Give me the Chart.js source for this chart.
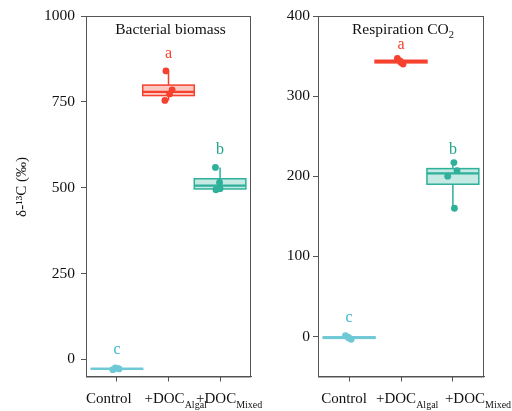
<!DOCTYPE html>
<html>
<head>
<meta charset="utf-8">
<script src="https://cdn.jsdelivr.net/npm/chart.js@4.4.1/dist/chart.umd.min.js"></script>
<style>
    body { margin: 0; background: #fff; }
    #wrap { position: relative; width: 512px; height: 411px; overflow: hidden; }
    canvas { position: absolute; top: 0; }
</style>
</head>
<body>
<div id="wrap">
    <canvas id="biomassChart" width="300" height="411" style="left:0"></canvas>
    <canvas id="respChart" width="256" height="411" style="left:256px"></canvas>
</div>
<script>
// Treatments (main label + subscript) and significance letters
const groupNames = ['Control', '+DOC', '+DOC'];
const groupSubs = ['', 'Algal', 'Mixed'];
const letters = ['c', 'a', 'b'];
const groupColors = ['#6FC8D6', '#F5412E', '#2EB09A'];
const letterColors = ['#35B9D6', '#F5412E', '#1FA38C'];

// Bacterial biomass, d13C per replicate
const biomassControl = [-30, -28, -27, -25];
const biomassAlgal = [754, 773, 785, 840];
const biomassMixed = [494, 497, 515, 559];
const biomassLetterY = [32, 892, 613];
const biomassTicks = [0, 250, 500, 750, 1000];

// Respiration CO2, d13C per replicate
const respControl = [-3.5, -2, -1, 1];
const respAlgal = [340, 342, 344, 347];
const respMixed = [160, 200, 207, 217];
const respLetterY = [24, 365, 234];
const respTicks = [0, 100, 200, 300, 400];

// Horizontal jitter of the replicate points (category units)
const biomassJitter = [[-0.08, 0.04, 0.02, -0.03], [-0.07, 0.02, 0.07, -0.05], [-0.08, 0.0, -0.01, -0.09]];
const respJitter = [[0.04, 0.0, -0.02, -0.07], [0.04, 0.0, -0.02, -0.07], [0.03, -0.1, 0.08, 0.02]];

const FONT = '"Liberation Serif", "DejaVu Serif", serif';

// Quantile (type 7, like R)
function quantile(vals, p) {
    const s = [...vals].sort((a, b) => a - b);
    const h = (s.length - 1) * p;
    const lo = Math.floor(h);
    const hi = Math.ceil(h);
    return s[lo] + (h - lo) * (s[hi] - s[lo]);
}

function hexToRgba(hex, a) {
    const n = parseInt(hex.slice(1), 16);
    return `rgba(${(n >> 16) & 255}, ${(n >> 8) & 255}, ${n & 255}, ${a})`;
}

// Box and whiskers, drawn under the points
const boxPlugin = {
    id: 'boxes',
    beforeDatasetsDraw(chart, args, opts) {
        const { ctx, scales: { x, y } } = chart;
        opts.groups.forEach((vals, i) => {
            const q1 = quantile(vals, 0.25), med = quantile(vals, 0.5), q3 = quantile(vals, 0.75);
            const lo = Math.min(...vals), hi = Math.max(...vals);
            const col = groupColors[i];
            const l = x.getPixelForValue(i - 0.5), r = x.getPixelForValue(i + 0.5), c = x.getPixelForValue(i);
            ctx.save();
            ctx.strokeStyle = col;
            ctx.lineWidth = 1.5;
            ctx.beginPath();
            ctx.moveTo(c, y.getPixelForValue(q3));
            ctx.lineTo(c, y.getPixelForValue(hi));
            ctx.moveTo(c, y.getPixelForValue(q1));
            ctx.lineTo(c, y.getPixelForValue(lo));
            ctx.stroke();
            const top = y.getPixelForValue(q3), bot = y.getPixelForValue(q1);
            ctx.fillStyle = hexToRgba(col, 0.28);
            ctx.fillRect(l, top, r - l, bot - top);
            ctx.strokeRect(l, top, r - l, bot - top);
            ctx.lineWidth = 2.2;
            ctx.beginPath();
            ctx.moveTo(l, y.getPixelForValue(med));
            ctx.lineTo(r, y.getPixelForValue(med));
            ctx.stroke();
            ctx.restore();
        });
    }
};

// Panel frame, titles, letters and x labels with subscripts
const decoPlugin = {
    id: 'deco',
    afterDraw(chart, args, opts) {
        const { ctx, chartArea: a, scales: { x, y } } = chart;
        ctx.save();
        ctx.strokeStyle = '#555';
        ctx.lineWidth = 1;
        ctx.strokeRect(a.left + 0.5, a.top + 0.5, a.right - a.left - 1, a.bottom - a.top);

        // panel title
        ctx.fillStyle = '#111';
        ctx.textBaseline = 'alphabetic';
        ctx.font = `15.5px ${FONT}`;
        const tw = ctx.measureText(opts.title).width;
        ctx.font = `10.5px ${FONT}`;
        const sw = opts.titleSub ? ctx.measureText(opts.titleSub).width : 0;
        const tx = (a.left + a.right) / 2 + 2 - (tw + sw) / 2;
        ctx.font = `15.5px ${FONT}`;
        ctx.textAlign = 'left';
        ctx.fillText(opts.title, tx, 34);
        if (opts.titleSub) {
            ctx.font = `10.5px ${FONT}`;
            ctx.fillText(opts.titleSub, tx + tw, 38);
        }

        // y axis title
        if (opts.yTitle) {
            ctx.save();
            ctx.translate(22, 187);
            ctx.rotate(-Math.PI / 2);
            ctx.textAlign = 'center';
            ctx.textBaseline = 'middle';
            ctx.font = `15px ${FONT}`;
            ctx.fillText(opts.yTitle, 0, 0);
            ctx.restore();
        }

        // significance letters
        ctx.textAlign = 'center';
        ctx.textBaseline = 'middle';
        ctx.font = `16px ${FONT}`;
        letters.forEach((t, i) => {
            ctx.fillStyle = letterColors[i];
            ctx.fillText(t, x.getPixelForValue(i), y.getPixelForValue(opts.letterY[i]) + 1);
        });

        // x labels
        ctx.fillStyle = '#111';
        ctx.textAlign = 'left';
        ctx.textBaseline = 'alphabetic';
        groupNames.forEach((name, i) => {
            const sx = x.getPixelForValue(i) + opts.labelShift[i];
            ctx.font = `15px ${FONT}`;
            ctx.fillText(name, sx, 403);
            if (groupSubs[i]) {
                const w = ctx.measureText(name).width;
                ctx.font = `10px ${FONT}`;
                ctx.fillText(groupSubs[i], sx + w, 408);
            }
        });
        ctx.restore();
    }
};

function makePanel(id, cfg) {
    const ctx = document.getElementById(id).getContext('2d');
    const datasets = cfg.groups.map((vals, i) => ({
        type: 'scatter',
        data: vals.map((v, k) => ({ x: i + cfg.jitter[i][k], y: v })),
        backgroundColor: groupColors[i],
        borderWidth: 0,
        pointRadius: 3.4
    }));
    new Chart(ctx, {
        type: 'scatter',
        data: { datasets },
        plugins: [boxPlugin, decoPlugin],
        options: {
            responsive: false,
            animation: false,
            devicePixelRatio: 1,
            events: [],
            layout: { padding: { top: 16, right: cfg.padRight, left: 0, bottom: 0 } },
            plugins: {
                legend: { display: false },
                tooltip: { enabled: false },
                boxes: { groups: cfg.groups },
                deco: {
                    title: cfg.title, titleSub: cfg.titleSub, yTitle: cfg.yTitle,
                    letterY: cfg.letterY, labelShift: cfg.labelShift
                }
            },
            scales: {
                x: {
                    type: 'linear',
                    min: -0.6,
                    max: 2.6,
                    afterBuildTicks: s => { s.ticks = [0, 1, 2].map(v => ({ value: v })); },
                    afterFit: s => { s.height = 34.5; },
                    ticks: { display: false },
                    grid: { drawOnChartArea: false, tickLength: 5, color: '#555' },
                    border: { color: '#555' }
                },
                y: {
                    min: cfg.yMin,
                    max: cfg.yMax,
                    afterBuildTicks: s => { s.ticks = cfg.ticks.map(v => ({ value: v })); },
                    afterFit: s => { s.width = cfg.yWidth; },
                    ticks: {
                        color: '#111',
                        padding: cfg.tickPad,
                        font: { family: FONT, size: 15.5 },
                        callback: v => String(v)
                    },
                    grid: { drawOnChartArea: false, tickLength: 5, color: '#555' },
                    border: { color: '#555' }
                }
            }
        }
    });
}

makePanel('biomassChart', {
    groups: [biomassControl, biomassAlgal, biomassMixed],
    jitter: biomassJitter,
    letterY: biomassLetterY,
    ticks: biomassTicks,
    yMin: -50, yMax: 1000,
    yWidth: 86, padRight: 49, tickPad: 6,
    yTitle: 'δ-¹³C (‰)',
    title: 'Bacterial biomass', titleSub: '',
    labelShift: [-31, -24, -24]
});

makePanel('respChart', {
    groups: [respControl, respAlgal, respMixed],
    jitter: respJitter,
    letterY: respLetterY,
    ticks: respTicks,
    yMin: -50, yMax: 400,
    yWidth: 62, padRight: 28, tickPad: 3,
    yTitle: '',
    title: 'Respiration CO', titleSub: '2',
    labelShift: [-28, -25, -8]
});
</script>
</body>
</html>
